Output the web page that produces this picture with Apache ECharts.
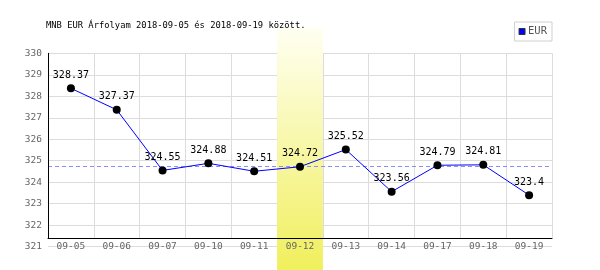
<!DOCTYPE html>
<html>
<head>
<meta charset="utf-8">
<script src="https://cdn.jsdelivr.net/npm/echarts@6/dist/echarts.min.js"></script>
<style>html,body{margin:0;padding:0;background:#fff}#c{width:600px;height:270px}</style>
</head>
<body>
<div id="c"></div>
<script>
var categories = ['09-05','09-06','09-07','09-10','09-11','09-12','09-13','09-14','09-17','09-18','09-19'];
var eurValues = [328.37, 327.37, 324.55, 324.88, 324.51, 324.72, 325.52, 323.56, 324.79, 324.81, 323.4];
var refLine = 324.76;
var highlightIndex = 5;
var yTicks = [321, 322, 323, 324, 325, 326, 327, 328, 329, 330];
var titleText = 'MNB EUR Árfolyam 2018-09-05 és 2018-09-19 között.';
var seriesName = 'EUR';

var mono = 'DejaVu Sans Mono';
var yMin = yTicks[0], yMax = yTicks[yTicks.length - 1];
var gridTop = 53.3, gridLeft = 48, gridRight = 48;
var outerBottom = 246.7, innerBottom = 238;
var pxPerUnit = (outerBottom - gridTop) / (yMax - yMin);
var innerMin = yMax - (innerBottom - gridTop) / pxPerUnit;

var bandData = categories.map(function (c, i) { return i === highlightIndex ? 1 : null; });

var chart = echarts.init(document.getElementById('c'), null, {renderer: 'canvas'});
chart.setOption({
  animation: false,
  backgroundColor: '#fff',
  title: {
    text: titleText, left: 46, top: 21, padding: 0,
    textStyle: {fontFamily: mono, fontSize: 8.8, fontWeight: 'normal', color: '#000'}
  },
  legend: {
    right: 48, top: 22, padding: [4, 5, 4, 4],
    borderColor: '#d0d0d0', borderWidth: 1,
    itemWidth: 6, itemHeight: 6, itemGap: 2,
    icon: 'rect',
    data: [{name: seriesName, itemStyle: {color: '#0000ff', borderColor: '#333', borderWidth: 1}}],
    textStyle: {fontFamily: mono, fontSize: 10.5, color: '#555', padding: [0, 0, 0, -2]}
  },
  grid: [
    {left: gridLeft, right: gridRight, top: gridTop, bottom: 270 - outerBottom},
    {left: gridLeft, right: gridRight, top: gridTop, bottom: 270 - innerBottom},
    {left: gridLeft, right: gridRight, top: 28, bottom: 0}
  ],
  xAxis: [
    {gridIndex: 0, type: 'category', data: categories, show: false},
    {gridIndex: 1, type: 'category', data: categories, z: 0,
      axisLine: {show: false}, axisTick: {show: false}, axisLabel: {show: false},
      splitLine: {show: true, lineStyle: {color: '#dcdcdc', width: 1}}},
    {gridIndex: 1, type: 'category', data: categories, z: 5, position: 'bottom',
      axisLine: {show: true, lineStyle: {color: '#000', width: 1}},
      axisTick: {show: false},
      axisLabel: {fontFamily: mono, fontSize: 9.5, color: '#666', margin: 4},
      splitLine: {show: false}},
    {gridIndex: 2, type: 'category', data: categories, show: false}
  ],
  yAxis: [
    {gridIndex: 0, type: 'value', min: yMin, max: yMax, interval: 1, z: 0,
      axisLine: {show: false}, axisTick: {show: false},
      axisLabel: {fontFamily: mono, fontSize: 9.5, color: '#666', margin: 6},
      splitLine: {show: true, lineStyle: {color: '#dcdcdc', width: 1}}},
    {gridIndex: 1, type: 'value', min: innerMin, max: yMax, z: 5,
      axisLine: {show: true, lineStyle: {color: '#000', width: 1}},
      axisTick: {show: false}, axisLabel: {show: false}, splitLine: {show: false}},
    {gridIndex: 2, type: 'value', min: 0, max: 1, show: false}
  ],
  series: [
    {
      type: 'line', xAxisIndex: 2, yAxisIndex: 1, data: [], z: 0.5, silent: true,
      markLine: {
        silent: true, symbol: 'none', label: {show: false},
        lineStyle: {color: '#8c8cff', type: [4, 3], width: 1},
        data: [{yAxis: refLine}]
      }
    },
    {
      type: 'bar', xAxisIndex: 3, yAxisIndex: 2, data: bandData, barWidth: '100%', z: 1, silent: true,
      itemStyle: {
        color: new echarts.graphic.LinearGradient(0, 0, 0, 1, [
          {offset: 0, color: '#fffff2'},
          {offset: 1, color: '#f0ef5c'}
        ])
      }
    },
    {
      name: seriesName, type: 'line', xAxisIndex: 2, yAxisIndex: 1, data: eurValues, z: 6,
      lineStyle: {color: '#0000ff', width: 1},
      itemStyle: {color: '#000'},
      symbol: 'circle', symbolSize: 8, showAllSymbol: true,
      label: {show: true, position: 'top', distance: 4, fontFamily: mono, fontSize: 10, color: '#000'}
    }
  ]
});
</script>
</body>
</html>
